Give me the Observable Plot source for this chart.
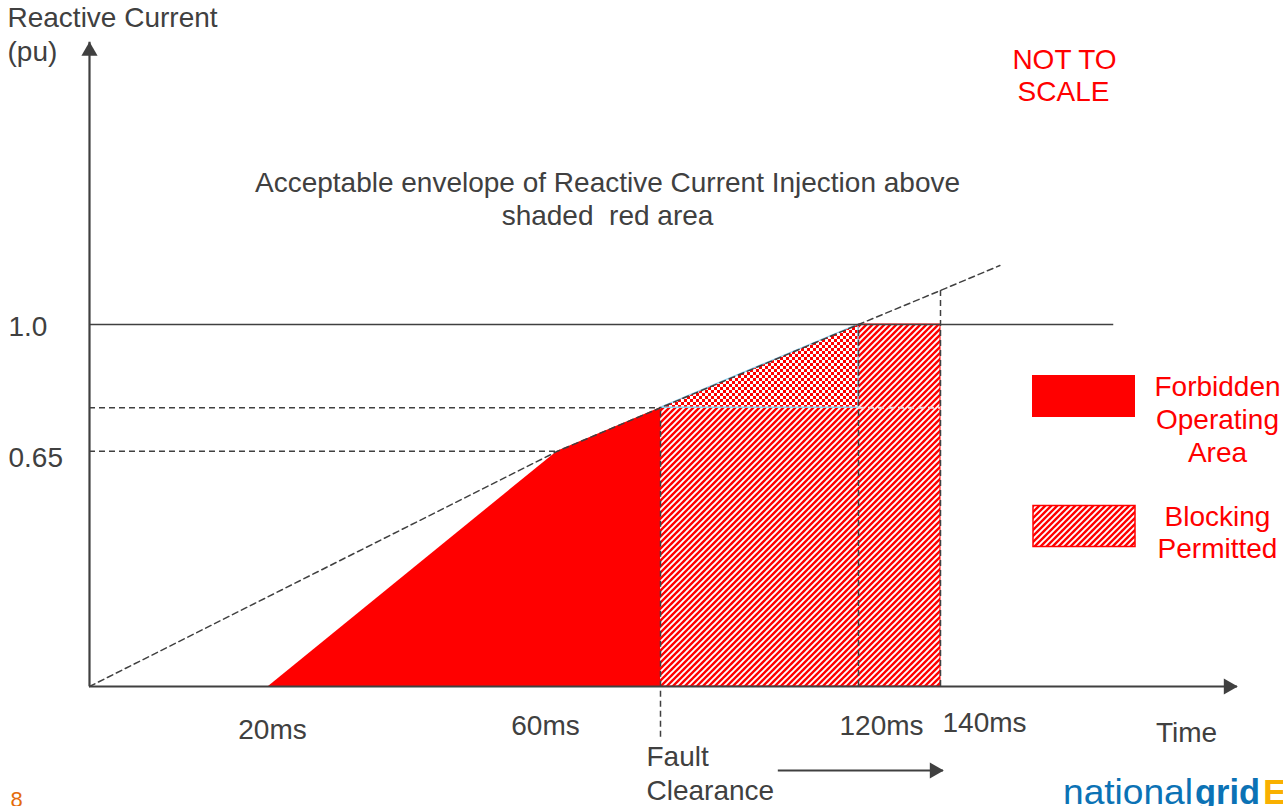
<!DOCTYPE html>
<html><head><meta charset="utf-8">
<script src="https://cdn.jsdelivr.net/npm/d3@7"></script>
<script src="https://cdn.jsdelivr.net/npm/@observablehq/plot@0.6"></script>
<style>
html,body{margin:0;padding:0;background:#fff;}
svg text{white-space:pre;}
</style></head><body><div id="chart"></div>
<script>
// ---------------- data ----------------
const timeTicks = [20, 60, 120, 140];
const timeTickLabels = ["20ms", "60ms", "120ms", "140ms"];
const faultClearanceTime = 80;
const currentTicks = [1.0, 0.65];
const currentTickLabels = ["1.0", "0.65"];
// envelope of reactive current injection (dashed line)
const envelopeTime = [0, 60, 80, 120, 140, 152];
const envelopeCurrent = [0, 0.65, 0.77, 1.0, 1.094, 1.163];
// forbidden operating area (upper edge, lower edge is the time axis)
const forbiddenTime = [20, 60, 80];
const forbiddenCurrent = [0, 0.65, 0.77];
// blocking permitted area (upper edge, step)
const blockingTime = [80, 120, 140];
const blockingCurrent = [0.77, 1.0, 1.0];
// transition triangle (checkered)
const transitionTime = [80, 120];
const transitionCurrent = [0.77, 1.0];
const clearanceCurrent = 0.77;
const ratedCurrent = 1.0;
const ratedLineEnd = 175;
const axisEndTime = 200;
const axisEndCurrent = 1.78;
const clearanceArrowFrom = 103.8, clearanceArrowTo = 140.6, clearanceArrowLevel = -0.232;
const faultLineBottom = -0.14;
// breakpoints of the (not-to-scale) time axis
const xBreaks = [0, 20, 60, 80, 120, 140, 200];

// ---------------- helpers ----------------
const zip = (xs, ys) => xs.map((t, i) => ({t, v: ys[i]}));
const grey = "#404040";
const red = "#ff0000";
const dash = "6,4";
const F = "Liberation Sans, Arial, Helvetica, sans-serif";
const FS = 28;
const txt = (s, o) => Plot.text([s], {text: d => d, fontFamily: F, fontSize: FS, fill: grey, lineAnchor: "middle", ...o});

const defsMark = () => {
  const g = d3.create("svg:g");
  const defs = g.append("defs");
  const h = defs.append("pattern").attr("id", "hatch").attr("patternUnits", "userSpaceOnUse").attr("width", 6).attr("height", 6);
  h.append("rect").attr("width", 6).attr("height", 6).attr("fill", red);
  h.append("path").attr("d", "M-1.5,1.5L1.5,-1.5M0,6L6,0M4.5,7.5L7.5,4.5").attr("stroke", "#fff").attr("stroke-width", 1.9);
  const c = defs.append("pattern").attr("id", "checker").attr("patternUnits", "userSpaceOnUse").attr("width", 6).attr("height", 6);
  c.append("rect").attr("width", 6).attr("height", 6).attr("fill", red);
  c.append("rect").attr("width", 3).attr("height", 3).attr("fill", "#fff");
  c.append("rect").attr("x", 3).attr("y", 3).attr("width", 3).attr("height", 3).attr("fill", "#fff");
  return g.node();
};

const legendMark = () => {
  const g = d3.create("svg:g");
  g.append("rect").attr("x", 1032).attr("y", 375).attr("width", 103).attr("height", 42).attr("fill", red);
  g.append("rect").attr("x", 1033).attr("y", 505.5).attr("width", 102).attr("height", 41).attr("fill", "url(#hatch)").attr("stroke", red).attr("stroke-width", 1.5);
  return g.node();
};

const logoMark = () => {
  const g = d3.create("svg:g").attr("font-family", F).attr("text-anchor", "start");
  g.append("text").attr("x", 1063).attr("y", 804).attr("font-size", 35).attr("fill", "#0b72b5")
    .attr("textLength", 130).attr("lengthAdjust", "spacingAndGlyphs").text("national");
  g.append("text").attr("x", 1195).attr("y", 804).attr("font-size", 35).attr("font-weight", "bold").attr("fill", "#0b72b5")
    .attr("textLength", 65).attr("lengthAdjust", "spacingAndGlyphs").text("grid");
  g.append("text").attr("x", 1263).attr("y", 804).attr("font-size", 35).attr("font-weight", "bold").attr("fill", "#f9b000").text("E");
  return g.node();
};

const chart = Plot.plot({
  width: 1283,
  height: 806,
  margin: 0,
  style: {background: "#fff", overflow: "visible"},
  x: {type: "linear", domain: xBreaks, range: [89, 268, 557, 660, 858, 940, 1237], axis: null},
  y: {type: "linear", domain: [0, 1], range: [686, 324], axis: null},
  marks: [
    defsMark,
    // areas
    Plot.area(zip(forbiddenTime, forbiddenCurrent), {x1: "t", y1: 0, y2: "v", fill: red}),
    Plot.area(zip(blockingTime, blockingCurrent), {x1: "t", y1: 0, y2: "v", curve: "step-after", fill: "url(#hatch)", stroke: red, strokeWidth: 1}),
    Plot.area(zip(transitionTime, transitionCurrent), {x1: "t", y1: clearanceCurrent, y2: "v", fill: "url(#checker)", stroke: "#8fd0ee", strokeWidth: 1.3}),
    // reference lines
    Plot.ruleY([ratedCurrent], {x1: 0, x2: ratedLineEnd, stroke: grey, strokeWidth: 1.6}),
    Plot.ruleY([0.65], {x1: 0, x2: 60, stroke: grey, strokeWidth: 1.5, strokeDasharray: dash}),
    Plot.ruleY([clearanceCurrent], {x1: 0, x2: faultClearanceTime, stroke: grey, strokeWidth: 1.5, strokeDasharray: dash}),
    Plot.ruleY([clearanceCurrent], {x1: 120, x2: 140, stroke: "#f6d6d6", strokeWidth: 1.8, strokeDasharray: dash}),
    Plot.ruleX([faultClearanceTime], {y1: faultLineBottom, y2: clearanceCurrent, stroke: grey, strokeWidth: 1.5, strokeDasharray: dash}),
    Plot.ruleX([120], {y1: 0, y2: ratedCurrent, stroke: grey, strokeWidth: 1.5, strokeDasharray: dash}),
    Plot.ruleX([140], {y1: 0, y2: 1.094, stroke: grey, strokeWidth: 1.5, strokeDasharray: dash}),
    Plot.line(zip(envelopeTime, envelopeCurrent), {x: "t", y: "v", stroke: grey, strokeWidth: 1.5, strokeDasharray: dash}),
    // axes with arrowheads
    Plot.ruleX([0], {y1: 0, y2: axisEndCurrent, stroke: grey, strokeWidth: 2.2}),
    Plot.dot([0], {x: 0, y: axisEndCurrent, symbol: "triangle", r: 6, fill: grey, stroke: null, dy: 9}),
    Plot.ruleY([0], {x1: 0, x2: axisEndTime, stroke: grey, strokeWidth: 2.2}),
    Plot.dot([0], {x: axisEndTime, y: 0, symbol: "triangle", r: 6, rotate: 90, fill: grey, stroke: null, dx: -9}),
    // fault clearance arrow
    Plot.ruleY([clearanceArrowLevel], {x1: clearanceArrowFrom, x2: clearanceArrowTo, stroke: grey, strokeWidth: 2.2}),
    Plot.dot([0], {x: clearanceArrowTo, y: clearanceArrowLevel, symbol: "triangle", r: 6, rotate: 90, fill: grey, stroke: null, dx: -9}),
    // tick labels
    txt(timeTickLabels[0], {x: timeTicks[0], y: 0, dx: 4, dy: 44}),
    txt(timeTickLabels[1], {x: timeTicks[1], y: 0, dx: -12, dy: 40}),
    txt(timeTickLabels[2], {x: timeTicks[2], y: 0, dx: 23, dy: 40}),
    txt(timeTickLabels[3], {x: timeTicks[3], y: 0, dx: 44, dy: 37}),
    txt("Time", {x: axisEndTime, y: 0, dx: -51, dy: 47}),
    txt("Fault", {x: faultClearanceTime, y: 0, dx: -14, dy: 71, textAnchor: "start"}),
    txt("Clearance", {x: faultClearanceTime, y: 0, dx: -14, dy: 105, textAnchor: "start"}),
    txt(currentTickLabels[0], {y: currentTicks[0], frameAnchor: "left", dx: 8, dy: 3, textAnchor: "start"}),
    txt(currentTickLabels[1], {y: currentTicks[1], frameAnchor: "left", dx: 8, dy: 7, textAnchor: "start"}),
    // axis title
    txt("Reactive Current", {frameAnchor: "top-left", dx: 7, dy: 18, textAnchor: "start"}),
    txt("(pu)", {frameAnchor: "top-left", dx: 7, dy: 52, textAnchor: "start"}),
    // annotations
    txt("Acceptable envelope of Reactive Current Injection above", {frameAnchor: "top-left", dx: 607, dy: 183, textAnchor: "middle"}),
    txt("shaded  red area", {frameAnchor: "top-left", dx: 607, dy: 216, textAnchor: "middle"}),
    txt("NOT TO", {frameAnchor: "top-left", dx: 1064, dy: 60, textAnchor: "middle", fill: red}),
    txt("SCALE", {frameAnchor: "top-left", dx: 1063, dy: 92, textAnchor: "middle", fill: red}),
    // legend
    legendMark,
    txt("Forbidden", {frameAnchor: "top-left", dx: 1217, dy: 387, textAnchor: "middle", fill: red}),
    txt("Operating", {frameAnchor: "top-left", dx: 1217, dy: 420, textAnchor: "middle", fill: red}),
    txt("Area", {frameAnchor: "top-left", dx: 1217, dy: 453, textAnchor: "middle", fill: red}),
    txt("Blocking", {frameAnchor: "top-left", dx: 1217, dy: 517, textAnchor: "middle", fill: red}),
    txt("Permitted", {frameAnchor: "top-left", dx: 1217, dy: 549, textAnchor: "middle", fill: red}),
    // page furniture
    txt("8", {frameAnchor: "top-left", dx: 10, dy: 799, textAnchor: "start", fill: "#e46c0a", fontSize: 22}),
    logoMark
  ]
});
document.getElementById("chart").appendChild(chart);
</script></body></html>
